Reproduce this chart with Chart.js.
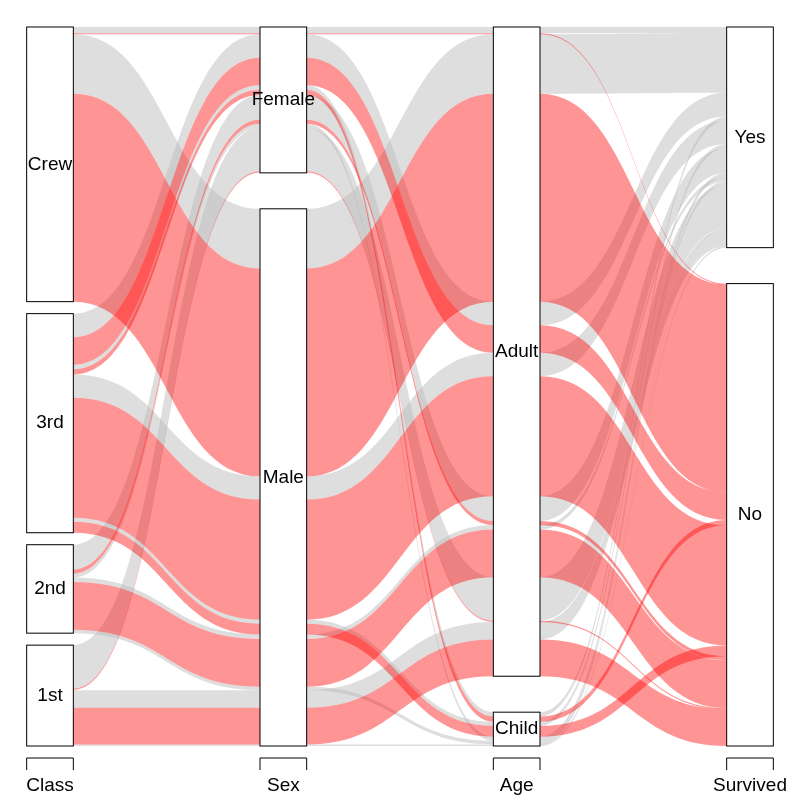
<!DOCTYPE html>
<html><head><meta charset="utf-8">
<script src="https://cdn.jsdelivr.net/npm/chart.js@4"></script>
<style>html,body{margin:0;background:#fff}#w{width:800px;height:800px}</style>
</head><body><div id="w"><canvas id="c"></canvas></div>
<script>
const axisNames = ["Class","Sex","Age","Survived"];
const classLevels = ["1st","2nd","3rd","Crew"];
const sexLevels = ["Male","Female"];
const ageLevels = ["Child","Adult"];
const survLevels = ["No","Yes"];
// rows: class, sex, age, survived
const rowClass = ["1st","2nd","3rd","Crew","1st","2nd","3rd","Crew","1st","2nd","3rd","Crew","1st","2nd","3rd","Crew","1st","2nd","3rd","Crew","1st","2nd","3rd","Crew","1st","2nd","3rd","Crew","1st","2nd","3rd","Crew"];
const rowSex = ["Male","Male","Male","Male","Female","Female","Female","Female","Male","Male","Male","Male","Female","Female","Female","Female","Male","Male","Male","Male","Female","Female","Female","Female","Male","Male","Male","Male","Female","Female","Female","Female"];
const rowAge = ["Child","Child","Child","Child","Child","Child","Child","Child","Adult","Adult","Adult","Adult","Adult","Adult","Adult","Adult","Child","Child","Child","Child","Child","Child","Child","Child","Adult","Adult","Adult","Adult","Adult","Adult","Adult","Adult"];
const rowSurv = ["No","No","No","No","No","No","No","No","No","No","No","No","No","No","No","No","Yes","Yes","Yes","Yes","Yes","Yes","Yes","Yes","Yes","Yes","Yes","Yes","Yes","Yes","Yes","Yes"];
const freq = [0,0,35,0,0,0,17,0,118,154,387,670,4,13,89,3,5,11,13,0,1,13,14,0,57,14,75,192,140,80,76,20];

const levels=[classLevels,sexLevels,ageLevels,survLevels];
const cols=[rowClass,rowSex,rowAge,rowSurv];
const N=freq.length, total=freq.reduce((a,b)=>a+b,0), GAP=0.05, BW=0.1;
// compute per-axis positions
const pos=[], blocks=[];
for(let i=0;i<4;i++){
  const key=r=>[i,...[0,1,2,3].filter(k=>k!==i)].map(k=>levels[k].indexOf(cols[k][r]));
  const idx=[...Array(N).keys()].sort((a,b)=>{const ka=key(a),kb=key(b);for(let j=0;j<4;j++)if(ka[j]!==kb[j])return ka[j]-kb[j];return a-b;});
  const nl=levels[i].length, g=GAP/(nl-1), sc=(1-GAP)/total;
  let y=0, cur=null; const p=[], bl=[];
  idx.forEach(r=>{
    const lv=cols[i][r];
    if(cur!==null && lv!==cur){bl[bl.length-1].y1=y; y+=g;}
    if(lv!==cur){bl.push({label:lv,y0:y}); cur=lv;}
    p[r]=[y,y+freq[r]*sc]; y+=freq[r]*sc;
  });
  bl[bl.length-1].y1=y;
  pos.push(p); blocks.push(bl);
}
const plugin={id:'alluvial',afterDatasetsDraw(chart){
  const ctx=chart.ctx, xs=chart.scales.x, ys=chart.scales.y;
  const X=v=>xs.getPixelForValue(v), Y=v=>ys.getPixelForValue(v);
  const order=[...Array(N).keys()].filter(r=>freq[r]>0).sort((a,b)=>(rowSurv[b]==="Yes")-(rowSurv[a]==="Yes"));
  order.forEach(r=>{
    ctx.fillStyle = rowSurv[r]==="No" ? "rgba(255,0,0,0.42)" : "rgba(190,190,190,0.5)";
    ctx.beginPath();
    for(let i=0;i<3;i++){
      const a=X(i+1+BW), b=X(i+2-BW), m=(a+b)/2, y0=Y(pos[i][r][1]), y1=Y(pos[i+1][r][1]);
      if(i===0){ctx.moveTo(X(1-BW),y0);} ctx.lineTo(a,y0);
      ctx.bezierCurveTo(m,y0,m,y1,b,y1); ctx.lineTo(X(i+2+BW),y1);
    }
    for(let i=3;i>0;i--){
      const a=X(i+1-BW), b=X(i+BW), m=(a+b)/2, y0=Y(pos[i][r][0]), y1=Y(pos[i-1][r][0]);
      ctx.lineTo(a,y0); ctx.bezierCurveTo(m,y0,m,y1,b,y1); ctx.lineTo(X(i-BW),y1);
    }
    ctx.closePath(); ctx.fill();
  });
  ctx.font='19px "Liberation Sans", Arial, sans-serif'; ctx.textAlign='center'; ctx.textBaseline='middle';
  blocks.forEach((bl,i)=>{
    const l=X(i+1-BW), rr=X(i+1+BW);
    bl.forEach(b=>{
      const t=Y(b.y1), bt=Y(b.y0);
      ctx.fillStyle='#fff'; ctx.fillRect(l,t,rr-l,bt-t);
      ctx.strokeStyle='#000'; ctx.lineWidth=1; ctx.strokeRect(l,t,rr-l,bt-t);
      ctx.fillStyle='#000'; ctx.fillText(b.label,(l+rr)/2,(t+bt)/2);
    });
    ctx.strokeStyle='#000'; ctx.beginPath();
    ctx.moveTo(l,770); ctx.lineTo(l,758); ctx.lineTo(rr,758); ctx.lineTo(rr,770); ctx.stroke();
    ctx.fillText(axisNames[i],(l+rr)/2,786);
  });
}};
new Chart(document.getElementById('c'),{type:'scatter',data:{datasets:[{data:[],showLine:false}]},
 options:{responsive:true,maintainAspectRatio:false,animation:false,
  layout:{padding:{top:27,bottom:54,left:0,right:0}},
  plugins:{legend:{display:false},tooltip:{enabled:false}},
  scales:{x:{type:'linear',display:false,min:1-50/233.33,max:4+50/233.33},y:{type:'linear',display:false,min:0,max:1}}},
 plugins:[plugin]});
</script></body></html>
